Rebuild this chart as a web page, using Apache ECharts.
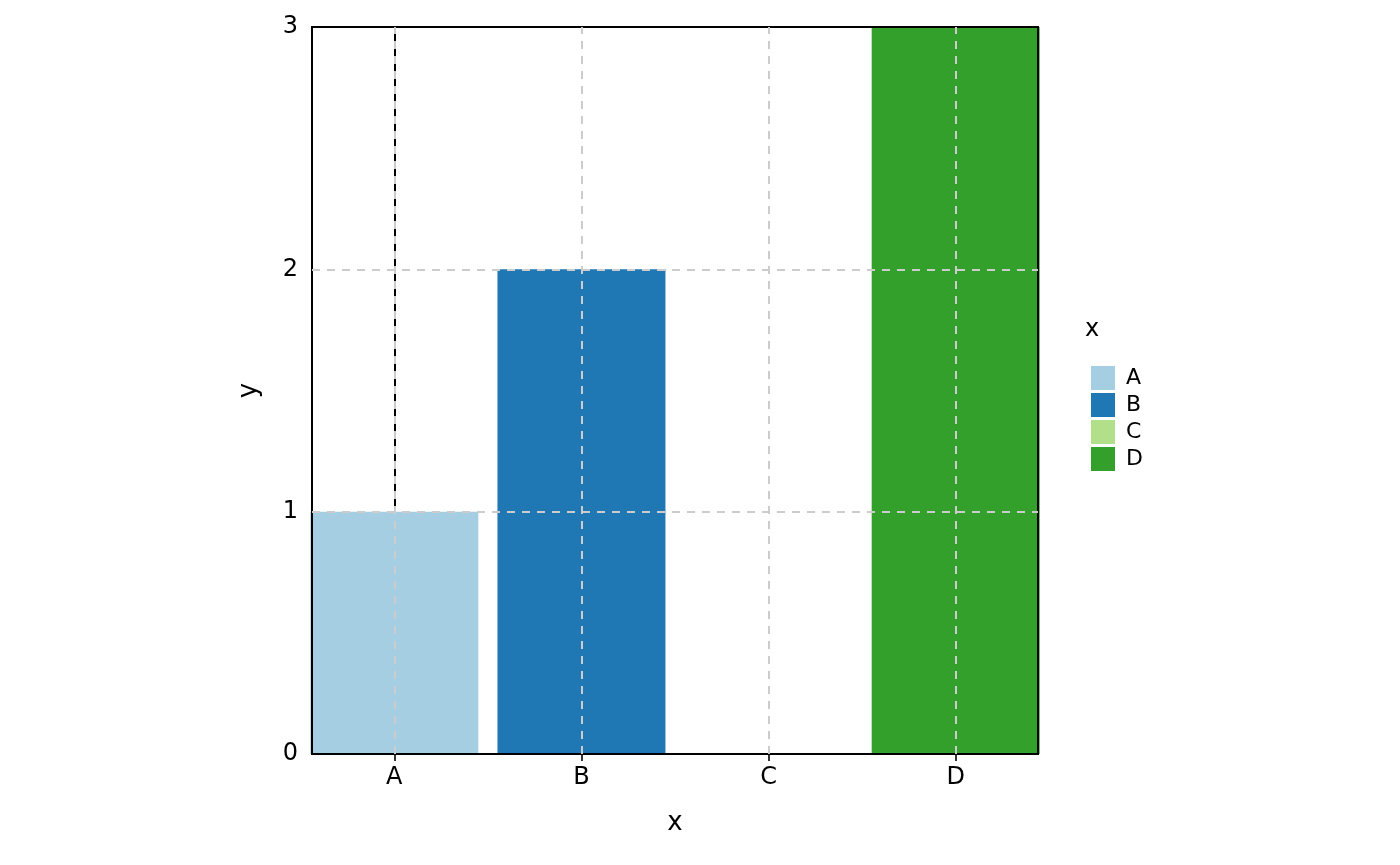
<!DOCTYPE html>
<html><head><meta charset="utf-8">
<script src="https://cdn.jsdelivr.net/npm/echarts@6/dist/echarts.min.js"></script>
<style>html,body{margin:0;background:#fff}#c{width:1400px;height:865px}</style>
</head><body><div id="c"></div>
<script>
const categories = ['A','B','C','D'];
const values = [1,2,0,3];
const colors = ['#A6CEE3','#1F78B4','#B2DF8A','#33A02C'];
const yTicks = [0,1,2,3];
const chart = echarts.init(document.getElementById('c'));
const font = 'DejaVu Sans';
const series = categories.map((c,i)=>({
  name:c, type:'bar', stack:'all', barWidth:168, z:3,
  itemStyle:{color:colors[i]}, data:[[i, values[i]]]
}));
series.push({
  type:'line', data:[], z:1, silent:true,
  markLine:{silent:true, symbol:'none', label:{show:false},
    lineStyle:{type:[8,7], color:'#cccccc', width:2},
    data: categories.map((c,i)=>({xAxis:i})).concat([1,2].map(v=>({yAxis:v})))}
});
chart.setOption({
  animation:false,
  textStyle:{fontFamily:font},
  grid:{left:312,right:362,top:27,bottom:111,show:true,borderColor:'#000',borderWidth:2,z:5},
  xAxis:{type:'value',min:-0.44,max:3.44,name:'x',nameLocation:'middle',nameGap:56,
    nameTextStyle:{fontSize:26,color:'#000',fontFamily:font},
    axisLine:{show:true,onZero:false,lineStyle:{color:'#000',width:2}},
    axisTick:{show:true,customValues:[0,1,2,3],length:7,lineStyle:{color:'#333',width:2}},
    axisLabel:{customValues:[0,1,2,3],fontSize:24,color:'#000',margin:12,fontFamily:font,formatter:v=>categories[Math.round(v)]},
    splitLine:{show:false}},
  yAxis:{type:'value',min:0,max:3,interval:1,name:'y',nameLocation:'middle',nameGap:50,
    nameTextStyle:{fontSize:26,color:'#000',fontFamily:font},
    axisLine:{show:true,lineStyle:{color:'#000',width:2}},
    axisTick:{show:true,length:7,lineStyle:{color:'#333',width:2}},
    axisLabel:{fontSize:24,color:'#000',margin:14,fontFamily:font,formatter:v=>yTicks.includes(v)?String(v):''},
    splitLine:{show:false}},
  legend:{orient:'vertical',left:1086,top:361,itemWidth:24,itemHeight:24,itemGap:3,
    icon:'rect',textStyle:{fontSize:22,color:'#000',fontFamily:font,padding:[0,0,0,6]},
    data:categories},
  graphic:[{type:'text',left:1085,top:318,style:{text:'x',fontSize:24,fill:'#000',fontFamily:font}}],
  series
});
</script></body></html>
